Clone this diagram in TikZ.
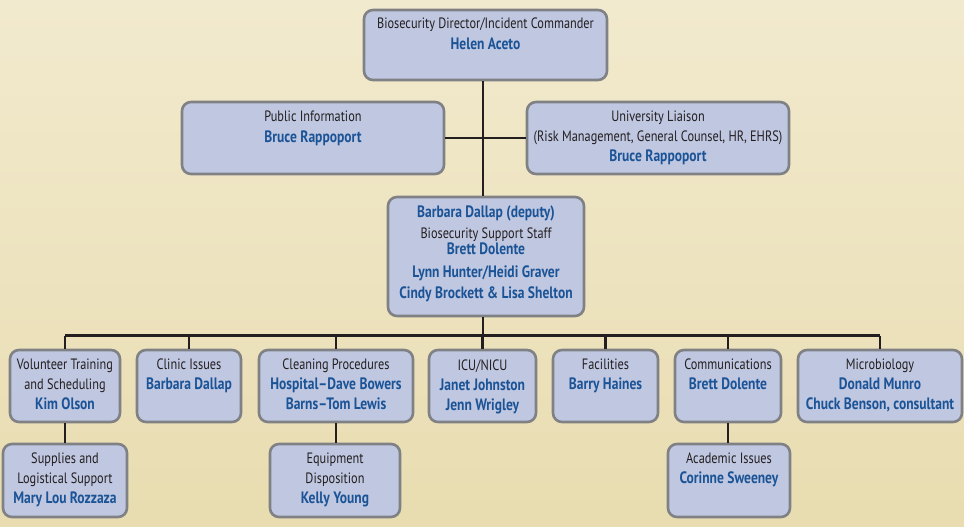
\documentclass[tikz,border=0pt]{standalone}
\usepackage{fontspec}
\setmainfont{PT Sans}[FakeStretch=0.82]
\definecolor{bgtop}{RGB}{242,234,206}
\definecolor{bgbot}{RGB}{232,220,176}
\definecolor{boxfill}{RGB}{192,199,225}
\definecolor{boxline}{RGB}{128,129,133}
\definecolor{namecol}{RGB}{27,84,150}
\definecolor{titlecol}{RGB}{35,31,32}
\newcommand{\nm}[1]{{\color{namecol}\bfseries\fontsize{16.5}{20}\selectfont #1}}
\tikzset{
  orgbox/.style={draw=boxline, line width=2.6pt, fill=boxfill, rounded corners=9pt, inner sep=0pt},
  boxtext/.style={anchor=north, align=center, inner sep=0pt, text=titlecol, font=\fontsize{15}{20}\selectfont},
  conn/.style={line width=2.3pt, draw=titlecol}
}
\newcommand{\orgnode}[5]{%
  \node[orgbox, minimum width={#4-#2}, minimum height={#5-#3}] (#1) at ({(#2+#4)/2},{(#3+#5)/2}) {};}
\begin{document}
\begin{tikzpicture}[x=1pt,y=-1pt]
\useasboundingbox (0,0) rectangle (964,527);
\shade[top color=bgtop, bottom color=bgbot] (0,0) rectangle (964,527);

% boxes
\orgnode{dir}{364}{10}{607}{80}
\orgnode{pub}{182}{102}{444}{174}
\orgnode{uni}{527}{102}{789}{174}
\orgnode{dep}{388}{197}{584}{316}
\orgnode{vol}{10}{350}{120}{422}
\orgnode{cli}{137}{350}{241}{422}
\orgnode{cln}{259}{350}{413}{422}
\orgnode{icu}{429}{350}{536}{422}
\orgnode{fac}{553}{350}{658}{422}
\orgnode{com}{675}{350}{781}{422}
\orgnode{mic}{798}{350}{962}{422}
\orgnode{sup}{3}{444}{127}{517}
\orgnode{eqp}{270}{444}{400}{517}
\orgnode{aca}{668}{444}{790}{517}

% texts
\node[boxtext, font=\fontsize{15}{21}\selectfont] (tdir) at ([yshift=-8.5pt]dir.north) {Biosecurity Director/Incident Commander\\\nm{Helen Aceto}};
\node[boxtext, font=\fontsize{15}{21}\selectfont] (tpub) at ([yshift=-9.5pt]pub.north) {Public Information\\\nm{Bruce Rappoport}};
\node[boxtext] (tuni) at ([yshift=-9.5pt]uni.north) {University Liaison\\(Risk Management, General Counsel, HR, EHRS)\\\nm{Bruce Rappoport}};
\node[boxtext, font=\fontsize{15}{21}\selectfont] (tdep) at ([yshift=-10pt]dep.north) {\nm{Barbara Dallap (deputy)}\\Biosecurity Support Staff\\[-5pt]\nm{Brett Dolente}\\[2pt]\nm{Lynn Hunter/Heidi Graver}\\\nm{Cindy Brockett \& Lisa Shelton}};
\node[boxtext] (tvol) at ([yshift=-9.5pt]vol.north) {Volunteer Training\\and Scheduling\\\nm{Kim Olson}};
\node[boxtext] (tcli) at ([yshift=-9.5pt]cli.north) {Clinic Issues\\\nm{Barbara Dallap}};
\node[boxtext] (tcln) at ([yshift=-9.5pt]cln.north) {Cleaning Procedures\\\nm{Hospital--Dave Bowers}\\\nm{Barns--Tom Lewis}};
\node[boxtext] (ticu) at ([yshift=-10.5pt]icu.north) {ICU/NICU\\\nm{Janet Johnston}\\\nm{Jenn Wrigley}};
\node[boxtext] (tfac) at ([yshift=-9.5pt]fac.north) {Facilities\\\nm{Barry Haines}};
\node[boxtext] (tcom) at ([yshift=-9.5pt]com.north) {Communications\\\nm{Brett Dolente}};
\node[boxtext] (tmic) at ([yshift=-9.5pt]mic.north) {Microbiology\\\nm{Donald Munro}\\\nm{Chuck Benson, consultant}};
\node[boxtext] (tsup) at ([yshift=-10pt]sup.north) {Supplies and\\Logistical Support\\\nm{Mary Lou Rozzaza}};
\node[boxtext] (teqp) at ([yshift=-10pt]eqp.north) {Equipment\\Disposition\\\nm{Kelly Young}};
\node[boxtext] (taca) at ([yshift=-10pt]aca.north) {Academic Issues\\\nm{Corinne Sweeney}};

% connectors
\coordinate (bus) at (483,335.5);
\draw[conn] (dir.south -| bus) -- (dep.north -| bus);
\draw[conn] (pub.east) -- (uni.west);
\draw[conn] (dep.south -| bus) -- (bus);
\draw[conn] (vol.north |- bus) -- (mic.north |- bus);
\foreach \b in {vol,cli,cln,icu,fac,com,mic}
  \draw[conn] (\b.north) -- (\b.north |- bus);
\draw[conn] (vol.south) -- (vol.south |- sup.north);
\draw[conn] (cln.south) -- (cln.south |- eqp.north);
\draw[conn] (com.south) -- (com.south |- aca.north);
\end{tikzpicture}
\end{document}
